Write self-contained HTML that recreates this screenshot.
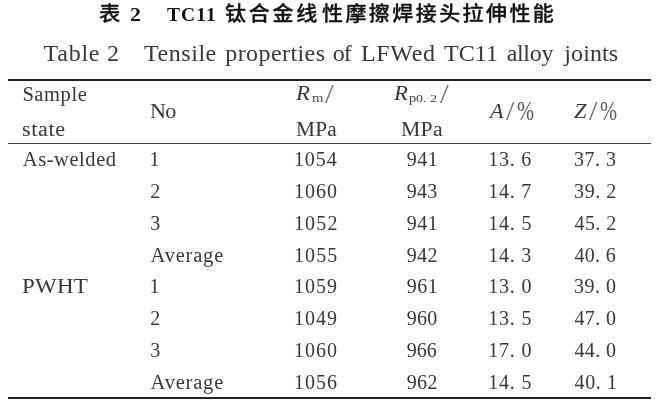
<!DOCTYPE html>
<html><head><meta charset="utf-8">
<style>
html,body{margin:0;padding:0;background:#fff;}
body{width:657px;height:404px;position:relative;overflow:hidden;font-family:"Liberation Serif","Noto Serif CJK SC",serif;color:#383838;}
.t{position:absolute;white-space:nowrap;line-height:1;}
.hl{position:absolute;background:#222;left:8.4px;width:642.6px;}
.zh{font-family:"Liberation Serif","Noto Sans CJK SC",sans-serif;font-weight:bold;color:#111;}
i{font-style:italic;}
</style></head><body>
<div class="hl" style="top:78.8px;height:2.3px;"></div>
<div class="hl" style="top:143px;height:1.3px;background:#444;"></div>
<div class="hl" style="top:397.1px;height:2.4px;"></div>
<div class="t" id="e0" style="left:43.62px;top:40.90px;font-size:24px;letter-spacing:0.71px;">Table</div>
<div class="t" id="e1" style="left:107.05px;top:40.90px;font-size:24px;letter-spacing:0.00px;">2</div>
<div class="t" id="e2" style="left:144.00px;top:40.90px;font-size:24px;letter-spacing:0.55px;">Tensile</div>
<div class="t" id="e3" style="left:225.28px;top:40.90px;font-size:24px;letter-spacing:0.42px;">properties</div>
<div class="t" id="e4" style="left:332.82px;top:40.90px;font-size:24px;letter-spacing:-1.03px;">of</div>
<div class="t" id="e5" style="left:361.03px;top:40.90px;font-size:24px;letter-spacing:0.63px;">LFWed</div>
<div class="t" id="e6" style="left:444.00px;top:40.90px;font-size:24px;letter-spacing:0.05px;">TC11</div>
<div class="t" id="e7" style="left:506.69px;top:40.90px;font-size:24px;letter-spacing:-0.32px;">alloy</div>
<div class="t" id="e8" style="left:564.33px;top:40.90px;font-size:24px;letter-spacing:0.09px;">joints</div>
<div class="t" id="z1" style="left:99.27px;top:4.20px;font-size:20.3px;letter-spacing:0.00px;font-family:'Liberation Serif','Noto Sans CJK SC',sans-serif;font-weight:500;color:#111;-webkit-text-stroke:0.3px #111;transform-origin:0 0;transform:scaleX(1.05);">表</div>
<div class="t" id="z2" style="left:129.64px;top:4.67px;font-size:19.5px;letter-spacing:0.00px;font-family:'Liberation Serif','Noto Sans CJK SC',sans-serif;font-weight:bold;color:#111;transform-origin:0 0;transform:scaleX(1.12);">2</div>
<div class="t" id="z3" style="left:166.96px;top:4.67px;font-size:19.5px;letter-spacing:1.13px;font-family:'Liberation Serif','Noto Sans CJK SC',sans-serif;font-weight:bold;color:#111;">TC11</div>
<div class="t" id="z4" style="left:224.58px;top:4.25px;font-size:20px;letter-spacing:2.59px;font-family:'Liberation Serif','Noto Sans CJK SC',sans-serif;font-weight:500;color:#111;-webkit-text-stroke:0.3px #111;transform-origin:0 0;transform:scaleX(1.05);">钛合金线</div>
<div class="t" id="z5" style="left:321.62px;top:4.25px;font-size:20px;letter-spacing:2.31px;font-family:'Liberation Serif','Noto Sans CJK SC',sans-serif;font-weight:500;color:#111;-webkit-text-stroke:0.3px #111;transform-origin:0 0;transform:scaleX(1.05);">性摩擦焊接头拉伸性能</div>
<div class="t" id="h_sample" style="left:22.40px;top:84.03px;font-size:20.5px;letter-spacing:0.58px;">Sample</div>
<div class="t" id="h_state" style="left:22.16px;top:119.03px;font-size:20.5px;letter-spacing:0.56px;transform-origin:0 0;transform:scaleX(1.08);">state</div>
<div class="t" id="h_no" style="left:150.37px;top:101.03px;font-size:20.5px;letter-spacing:-0.76px;transform-origin:0 0;transform:scaleX(1.08);">No</div>
<div class="t" id="h_r1" style="left:296.25px;top:83.31px;font-size:20.5px;letter-spacing:0.00px;transform-origin:0 0;transform:scale(1.109,0.983);"><i>R</i></div>
<div class="t" id="h_m" style="left:311.78px;top:91.07px;font-size:12px;letter-spacing:0.00px;color:#444;transform-origin:0 0;transform:scale(1.224,1.082);">m</div>
<div class="t" id="h_s1" style="left:324.84px;top:80.54px;font-size:24px;letter-spacing:0.00px;color:#707070;transform-origin:0 0;transform:scale(1.306,1.113);">/</div>
<div class="t" id="h_mpa1" style="left:295.52px;top:119.03px;font-size:20.5px;letter-spacing:0.23px;transform-origin:0 0;transform:scaleX(1.04);">MPa</div>
<div class="t" id="h_r2" style="left:394.25px;top:83.31px;font-size:20.5px;letter-spacing:0.00px;transform-origin:0 0;transform:scale(1.109,0.983);"><i>R</i></div>
<div class="t" id="h_p" style="left:408.65px;top:91.12px;font-size:12px;letter-spacing:0.00px;color:#444;transform-origin:0 0;transform:scale(1.192,1.062);">p</div>
<div class="t" id="h_p2" style="left:415.54px;top:93.61px;font-size:10px;letter-spacing:0.00px;color:#444;transform-origin:0 0;transform:scale(1.412,1.006);">0. 2</div>
<div class="t" id="h_s2" style="left:440.41px;top:79.90px;font-size:24px;letter-spacing:0.00px;color:#707070;transform-origin:0 0;transform:scale(1.306,1.126);">/</div>
<div class="t" id="h_mpa2" style="left:400.99px;top:119.03px;font-size:20.5px;letter-spacing:0.28px;transform-origin:0 0;transform:scaleX(1.06);">MPa</div>
<div class="t" id="h_a" style="left:490.15px;top:101.17px;font-size:20.5px;letter-spacing:0.00px;transform-origin:0 0;transform:scale(1.082,0.975);"><i>A</i></div>
<div class="t" id="h_s3" style="left:505.60px;top:98.37px;font-size:24px;letter-spacing:0.00px;color:#707070;transform-origin:0 0;transform:scale(1.253,1.094);">/</div>
<div class="t" id="h_pc1" style="left:517.39px;top:97.07px;font-size:19px;letter-spacing:0.00px;color:#5a5a5a;transform-origin:0 0;transform:scale(1.078,1.426);">%</div>
<div class="t" id="h_z" style="left:574.05px;top:101.45px;font-size:20.5px;letter-spacing:0.00px;transform-origin:0 0;transform:scale(1.097,1.001);"><i>Z</i></div>
<div class="t" id="h_s4" style="left:588.56px;top:97.60px;font-size:24px;letter-spacing:0.00px;color:#707070;transform-origin:0 0;transform:scale(1.283,1.116);">/</div>
<div class="t" id="h_pc2" style="left:599.81px;top:96.72px;font-size:19px;letter-spacing:0.00px;color:#5a5a5a;transform-origin:0 0;transform:scale(1.078,1.439);">%</div>
<div class="t" id="b_as" style="left:22.86px;top:149.03px;font-size:20.5px;letter-spacing:0.55px;">As-welded</div>
<div class="t" id="b_pw" style="left:22.09px;top:276.03px;font-size:20.5px;letter-spacing:0.20px;transform-origin:0 0;transform:scaleX(1.12);">PWHT</div>
<div class="t" id="r0c0" style="left:149.50px;top:149.25px;font-size:20px;letter-spacing:0.00px;">1</div>
<div class="t" id="r0c1" style="left:293.89px;top:149.25px;font-size:20px;letter-spacing:0.92px;">1054</div>
<div class="t" id="r0c2" style="left:406.79px;top:149.25px;font-size:20px;letter-spacing:0.43px;">941</div>
<div class="t" id="r0c3" style="left:488.32px;top:149.25px;font-size:20px;letter-spacing:0.73px;">13. 6</div>
<div class="t" id="r0c4" style="left:574.11px;top:149.25px;font-size:20px;letter-spacing:0.45px;">37. 3</div>
<div class="t" id="r1c0" style="left:150.32px;top:181.25px;font-size:20px;letter-spacing:0.00px;">2</div>
<div class="t" id="r1c1" style="left:293.89px;top:181.25px;font-size:20px;letter-spacing:1.06px;">1060</div>
<div class="t" id="r1c2" style="left:406.79px;top:181.25px;font-size:20px;letter-spacing:0.21px;">943</div>
<div class="t" id="r1c3" style="left:488.32px;top:181.25px;font-size:20px;letter-spacing:0.71px;">14. 7</div>
<div class="t" id="r1c4" style="left:574.11px;top:181.25px;font-size:20px;letter-spacing:0.52px;">39. 2</div>
<div class="t" id="r2c0" style="left:150.21px;top:213.25px;font-size:20px;letter-spacing:0.00px;">3</div>
<div class="t" id="r2c1" style="left:293.89px;top:213.25px;font-size:20px;letter-spacing:1.18px;">1052</div>
<div class="t" id="r2c2" style="left:406.79px;top:213.25px;font-size:20px;letter-spacing:0.43px;">941</div>
<div class="t" id="r2c3" style="left:488.32px;top:213.25px;font-size:20px;letter-spacing:0.77px;">14. 5</div>
<div class="t" id="r2c4" style="left:574.53px;top:213.25px;font-size:20px;letter-spacing:0.41px;">45. 2</div>
<div class="t" id="r3c0" style="left:150.56px;top:245.03px;font-size:20.5px;letter-spacing:0.80px;">Average</div>
<div class="t" id="r3c1" style="left:293.89px;top:245.25px;font-size:20px;letter-spacing:1.15px;">1055</div>
<div class="t" id="r3c2" style="left:406.79px;top:245.25px;font-size:20px;letter-spacing:0.32px;">942</div>
<div class="t" id="r3c3" style="left:488.32px;top:245.25px;font-size:20px;letter-spacing:0.76px;">14. 3</div>
<div class="t" id="r3c4" style="left:574.53px;top:245.25px;font-size:20px;letter-spacing:0.29px;">40. 6</div>
<div class="t" id="r4c0" style="left:149.50px;top:276.25px;font-size:20px;letter-spacing:0.00px;">1</div>
<div class="t" id="r4c1" style="left:293.89px;top:276.25px;font-size:20px;letter-spacing:1.08px;">1059</div>
<div class="t" id="r4c2" style="left:406.79px;top:276.25px;font-size:20px;letter-spacing:0.43px;">961</div>
<div class="t" id="r4c3" style="left:488.32px;top:276.25px;font-size:20px;letter-spacing:0.77px;">13. 0</div>
<div class="t" id="r4c4" style="left:574.11px;top:276.25px;font-size:20px;letter-spacing:0.45px;">39. 0</div>
<div class="t" id="r5c0" style="left:150.32px;top:308.25px;font-size:20px;letter-spacing:0.00px;">2</div>
<div class="t" id="r5c1" style="left:293.89px;top:308.25px;font-size:20px;letter-spacing:1.08px;">1049</div>
<div class="t" id="r5c2" style="left:406.79px;top:308.25px;font-size:20px;letter-spacing:0.21px;">960</div>
<div class="t" id="r5c3" style="left:488.32px;top:308.25px;font-size:20px;letter-spacing:0.77px;">13. 5</div>
<div class="t" id="r5c4" style="left:574.53px;top:308.25px;font-size:20px;letter-spacing:0.34px;">47. 0</div>
<div class="t" id="r6c0" style="left:150.21px;top:340.25px;font-size:20px;letter-spacing:0.00px;">3</div>
<div class="t" id="r6c1" style="left:293.89px;top:340.25px;font-size:20px;letter-spacing:1.06px;">1060</div>
<div class="t" id="r6c2" style="left:406.79px;top:340.25px;font-size:20px;letter-spacing:0.04px;">966</div>
<div class="t" id="r6c3" style="left:488.32px;top:340.25px;font-size:20px;letter-spacing:0.77px;">17. 0</div>
<div class="t" id="r6c4" style="left:574.53px;top:340.25px;font-size:20px;letter-spacing:0.34px;">44. 0</div>
<div class="t" id="r7c0" style="left:150.56px;top:372.03px;font-size:20.5px;letter-spacing:0.80px;">Average</div>
<div class="t" id="r7c1" style="left:293.89px;top:372.25px;font-size:20px;letter-spacing:1.06px;">1056</div>
<div class="t" id="r7c2" style="left:406.79px;top:372.25px;font-size:20px;letter-spacing:0.32px;">962</div>
<div class="t" id="r7c3" style="left:488.32px;top:372.25px;font-size:20px;letter-spacing:0.77px;">14. 5</div>
<div class="t" id="r7c4" style="left:574.53px;top:372.25px;font-size:20px;letter-spacing:0.61px;">40. 1</div>
</body></html>
